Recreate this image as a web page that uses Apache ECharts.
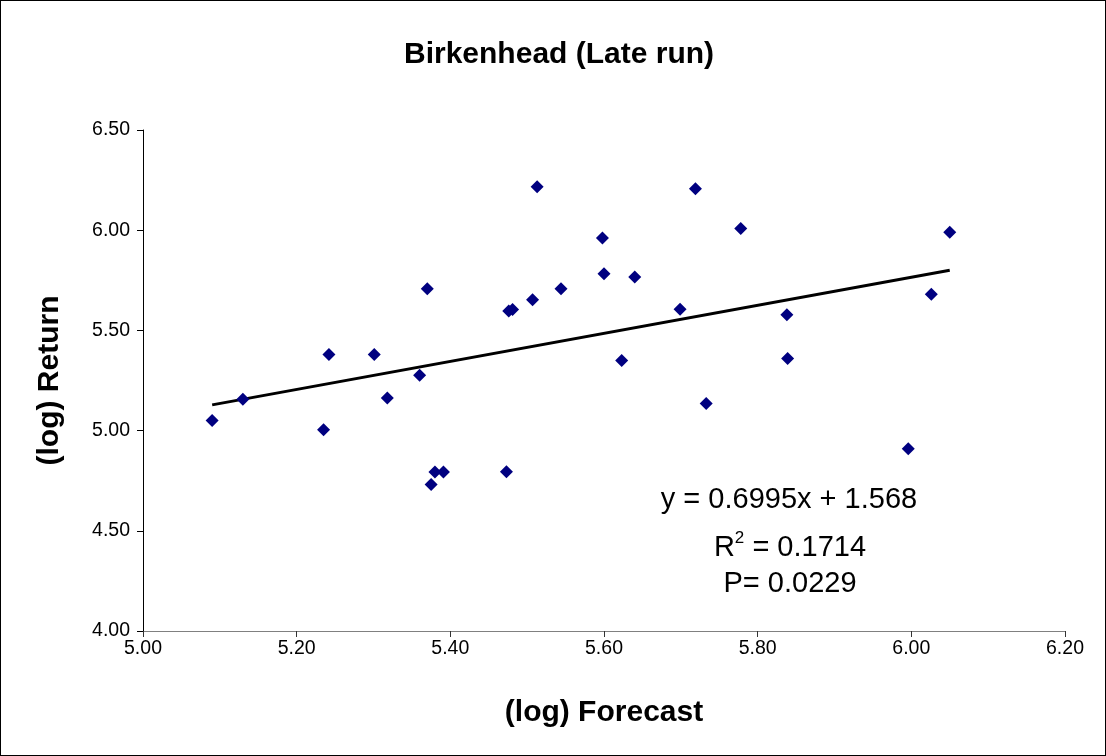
<!DOCTYPE html>
<html>
<head>
<meta charset="utf-8">
<script src="https://cdn.jsdelivr.net/npm/echarts@6/dist/echarts.min.js"></script>
<style>
  html, body { margin: 0; padding: 0; background: #fff; }
  #chart { width: 1106px; height: 756px; box-sizing: border-box; border: 1px solid #000; }
</style>
</head>
<body>
<div id="chart"></div>
<script>
// 散点数据 (log Forecast, log Return)
const forecast = [5.09, 5.13, 5.235, 5.242, 5.301, 5.318, 5.36, 5.37, 5.38, 5.391, 5.375,
  5.513, 5.719, 5.778, 5.598, 5.6, 5.64, 5.544, 5.507, 5.476, 5.481, 5.699, 5.623, 5.733,
  5.473, 5.838, 5.839, 6.05, 6.026, 5.996];
const returns = [5.05, 5.157, 5.004, 5.38, 5.38, 5.163, 5.276, 5.708, 4.794, 4.794, 4.731,
  6.217, 6.207, 6.009, 5.961, 5.783, 5.766, 5.708, 5.653, 5.597, 5.604, 5.605, 5.35, 5.135,
  4.795, 5.578, 5.36, 5.99, 5.68, 4.909];

// 趋势线
const slope = 0.6995;
const intercept = 1.568;
const trendX = [5.09, 6.05];

const xTicks = [5.0, 5.2, 5.4, 5.6, 5.8, 6.0, 6.2];
const yTicks = [4.0, 4.5, 5.0, 5.5, 6.0, 6.5];

let points = forecast.map((x, i) => [x, returns[i]]);
let trend = trendX.map(x => [x, slope * x + intercept]);

const font = 'Liberation Sans, Arial, sans-serif';

let option = {
  animation: false,
  title: {
    text: 'Birkenhead (Late run)',
    left: 398,
    top: 34,
    textStyle: { fontFamily: font, fontSize: 30, fontWeight: 'bold', color: '#000' }
  },
  grid: { left: 142, right: 40, top: 129, bottom: 124 },
  xAxis: {
    type: 'value',
    min: xTicks[0],
    max: xTicks[xTicks.length - 1],
    interval: 0.2,
    name: '(log) Forecast',
    nameLocation: 'middle',
    nameGap: 67,
    nameTextStyle: { fontFamily: font, fontSize: 30, fontWeight: 'bold', color: '#000' },
    axisLine: { lineStyle: { color: '#808080', width: 1 } },
    axisTick: { show: true, length: 6, lineStyle: { color: '#333' } },
    splitLine: { show: false },
    axisLabel: {
      fontFamily: font, fontSize: 19.5, color: '#000', margin: 8,
      formatter: v => v.toFixed(2)
    }
  },
  yAxis: {
    type: 'value',
    min: yTicks[0],
    max: yTicks[yTicks.length - 1],
    interval: 0.5,
    name: '(log) Return',
    nameLocation: 'middle',
    nameGap: 78,
    nameTextStyle: { fontFamily: font, fontSize: 30, fontWeight: 'bold', color: '#000' },
    axisLine: { show: true, lineStyle: { color: '#000', width: 1 } },
    axisTick: { show: true, length: 6, lineStyle: { color: '#000' } },
    splitLine: { show: false },
    axisLabel: {
      fontFamily: font, fontSize: 19.5, color: '#000', margin: 13,
      formatter: v => v.toFixed(2)
    }
  },
  graphic: [
    {
      type: 'text',
      x: 788, y: 499,
      style: { text: 'y = 0.6995x + 1.568', font: '29px ' + font, fill: '#000',
        textAlign: 'center', textVerticalAlign: 'middle' }
    },
    {
      type: 'text',
      x: 789, y: 545,
      style: {
        text: '{b|R}{s|2}{b| = 0.1714}',
        textAlign: 'center', textVerticalAlign: 'middle',
        rich: {
          b: { font: '29px ' + font, fill: '#000', verticalAlign: 'bottom' },
          s: { font: '17px ' + font, fill: '#000', verticalAlign: 'top', padding: [0, 0, 16, 0] }
        }
      }
    },
    {
      type: 'text',
      x: 789, y: 583,
      style: { text: 'P= 0.0229', font: '29px ' + font, fill: '#000',
        textAlign: 'center', textVerticalAlign: 'middle' }
    }
  ],
  series: [
    {
      type: 'line',
      data: trend,
      symbol: 'none',
      lineStyle: { color: '#000', width: 3 },
      z: 1
    },
    {
      type: 'scatter',
      data: points,
      symbol: 'diamond',
      symbolSize: 13,
      itemStyle: { color: '#000080', opacity: 1 },
      z: 2
    }
  ]
};

var myChart = echarts.init(document.getElementById('chart'));
myChart.setOption(option);
</script>
</body>
</html>
